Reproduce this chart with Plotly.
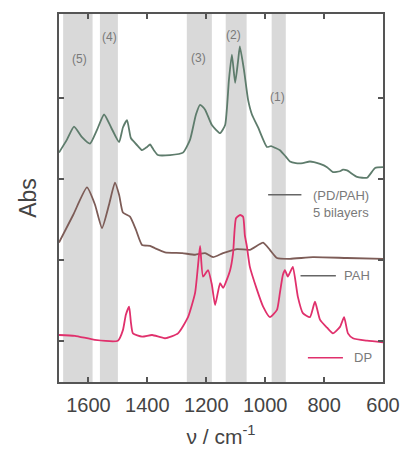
import plotly.graph_objects as go

# Wavenumbers (cm^-1) and absorbance (a.u., offset)
pd_pah_wn = [1700, 1673, 1649, 1622, 1595, 1571, 1547, 1523, 1496, 1483, 1469, 1456, 1442, 1432, 1418,
             1401, 1391, 1378, 1364, 1323, 1279, 1255, 1235, 1221, 1204, 1181, 1153, 1136, 1123, 1113,
             1102, 1092, 1086, 1072, 1058, 1045, 1024, 994, 980, 967, 950, 930, 916, 896, 872, 848,
             814, 790, 770, 746, 736, 722, 688, 654, 627, 600]
pd_pah_abs = [2.83, 2.99, 3.15, 3.02, 2.94, 3.11, 3.30, 3.14, 2.96, 3.14, 3.23, 3.01, 2.95, 2.91, 2.86,
              2.90, 2.93, 2.86, 2.80, 2.80, 2.83, 2.99, 3.30, 3.42, 3.36, 3.17, 3.07, 3.17, 3.73, 4.04,
              3.69, 3.96, 4.14, 3.85, 3.48, 3.30, 3.14, 2.90, 2.91, 2.89, 2.86, 2.78, 2.72, 2.70, 2.70, 2.72,
              2.69, 2.65, 2.59, 2.60, 2.62, 2.61, 2.53, 2.52, 2.64, 2.65]

pah_wn = [1700, 1652, 1605, 1578, 1554, 1530, 1510, 1496, 1483, 1459, 1439, 1418, 1391, 1374, 1340,
          1282, 1238, 1204, 1177, 1143, 1096, 1052, 1007, 984, 960, 916, 838, 722, 600]
pah_abs = [1.72, 2.06, 2.40, 2.19, 1.90, 2.19, 2.46, 2.31, 2.09, 2.04, 1.88, 1.69, 1.68, 1.65, 1.60,
           1.59, 1.57, 1.59, 1.54, 1.59, 1.64, 1.63, 1.72, 1.63, 1.53, 1.52, 1.54, 1.53, 1.52]

dp_wn = [1700, 1646, 1578, 1500, 1483, 1473, 1462, 1456, 1449, 1418, 1384, 1340, 1296, 1262, 1238,
         1228, 1221, 1211, 1194, 1181, 1170, 1153, 1143, 1119, 1109, 1099, 1085, 1075, 1069, 1062,
         1052, 1028, 1007, 984, 960, 950, 940, 933, 923, 916, 906, 889, 872, 848, 831, 814, 790,
         770, 746, 732, 719, 702, 654, 600]
dp_abs = [0.58, 0.57, 0.52, 0.51, 0.64, 0.83, 0.93, 0.74, 0.60, 0.56, 0.58, 0.54, 0.60, 0.80, 1.10,
          1.44, 1.68, 1.30, 1.38, 1.20, 0.95, 1.22, 1.16, 1.38, 1.59, 2.02, 2.06, 2.04, 1.81, 1.67,
          1.42, 1.14, 0.93, 0.80, 0.89, 1.10, 1.32, 1.38, 1.30, 1.35, 1.42, 1.05, 0.85, 0.80, 0.99, 0.77, 0.67,
          0.60, 0.68, 0.80, 0.60, 0.54, 0.51, 0.49]

# Highlighted bands (cm^-1)
band_labels = ["(1)", "(2)", "(3)", "(4)", "(5)"]
band_lo = [930, 1063, 1181, 1500, 1586]
band_hi = [978, 1134, 1266, 1561, 1686]
band_label_x = [957, 1109, 1225, 1527, 1629]
band_label_y = [3.52, 4.28, 4.00, 4.26, 3.98]

x_ticks = [1600, 1400, 1200, 1000, 800, 600]
y_ticks = [0.5, 1.5, 2.5, 3.5]

c_green = "#5e7c6c"
c_brown = "#7d5c57"
c_pink = "#e0306c"
txt_gray = "#7a7a7a"

fig = go.Figure()
for name, xs, ys, col in [("(PD/PAH) 5 bilayers", pd_pah_wn, pd_pah_abs, c_green),
                          ("PAH", pah_wn, pah_abs, c_brown),
                          ("DP", dp_wn, dp_abs, c_pink)]:
    fig.add_trace(go.Scatter(x=xs, y=ys, mode="lines", name=name,
                             line=dict(color=col, width=1.8, shape="spline", smoothing=0.5),
                             showlegend=False))

for lo, hi in zip(band_lo, band_hi):
    fig.add_vrect(x0=lo, x1=hi, fillcolor="#d2d2d2", opacity=0.85, line_width=0, layer="below")

for lab, lx, ly in zip(band_labels, band_label_x, band_label_y):
    fig.add_annotation(x=lx, y=ly, text=lab, showarrow=False,
                       font=dict(size=12, color=txt_gray, family="Liberation Sans"))

# In-plot legend keys
legend_items = [
    ([990, 877], 2.31, "#666666", 843, "(PD/PAH)<br>5 bilayers", True),
    ([880, 760], 1.31, "#666666", 738, "PAH", False),
    ([855, 736], 0.30, c_pink, 705, "DP", False),
]
for (xs, ly, col, tx, txt, two_line) in legend_items:
    fig.add_trace(go.Scatter(x=xs, y=[ly, ly], mode="lines",
                             line=dict(color=col, width=1.4),
                             showlegend=False, hoverinfo="skip"))
    fig.add_annotation(x=tx, y=ly, text=txt, showarrow=False, xanchor="left",
                       yanchor="top" if two_line else "middle", yshift=9 if two_line else 0,
                       align="left",
                       font=dict(size=13, color=txt_gray, family="Liberation Sans"))

axis_common = dict(showline=True, linecolor="#555555", linewidth=2, mirror="ticks",
                   ticks="inside", ticklen=5, tickcolor="#555555", tickwidth=1.5,
                   showgrid=False, zeroline=False, automargin=False)

fig.update_xaxes(range=[1700, 600], tickvals=x_ticks, ticktext=[str(v) for v in x_ticks],
                 tickfont=dict(size=20, color="#444444", family="Liberation Sans"),
                 ticklabelstandoff=4,
                 title=dict(text="ν / cm<sup>-1</sup>", standoff=14,
                            font=dict(size=21, color="#444444", family="Liberation Sans")),
                 **axis_common)
fig.update_yaxes(range=[0, 4.54], tickvals=y_ticks, showticklabels=False,
                 title=dict(text="Abs", standoff=14,
                            font=dict(size=23, color="#444444", family="Liberation Sans")),
                 **axis_common)

fig.update_layout(width=401, height=456, margin=dict(l=59, r=18, t=14, b=74),
                  plot_bgcolor="white", paper_bgcolor="white")

fig.write_html("out.html")
